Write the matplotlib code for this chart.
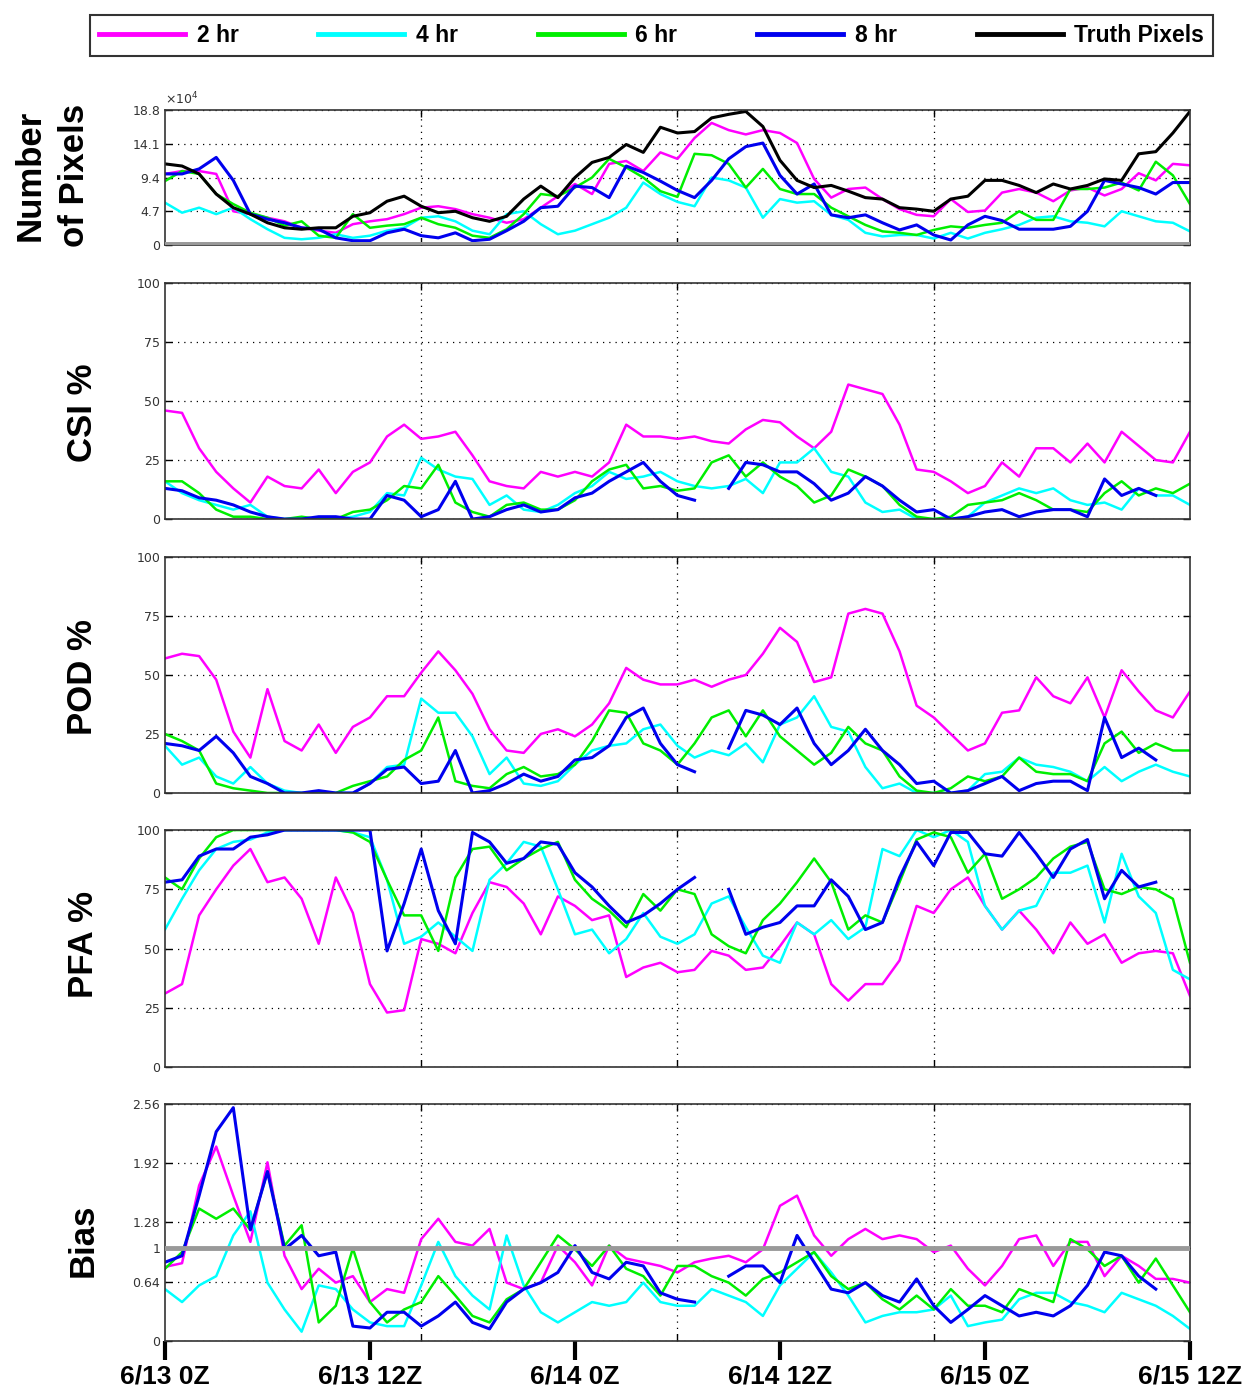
import numpy as np
import matplotlib
matplotlib.use('Agg')
import matplotlib.pyplot as plt

nan = np.nan

# time axis: hours since 6/13 0Z, one value per hour
hours = np.arange(61)
x_ticks = [0, 12, 24, 36, 48, 60]
x_labels = ['6/13 0Z', '6/13 12Z', '6/14 0Z', '6/14 12Z', '6/15 0Z', '6/15 12Z']

leads = ['2 hr', '4 hr', '6 hr', '8 hr']
colors = ['#ff00ff', '#00ffff', '#00ee00', '#0000ee']

# number of pixels (x 10^4)
pix_truth = [11.3, 11.0, 9.9, 7.1, 5.2, 4.3, 3.1, 2.4, 2.2, 2.4, 2.4, 4.0, 4.5, 6.1, 6.8, 5.4,
             4.5, 4.7, 3.8, 3.3, 4.0, 6.4, 8.2, 6.6, 9.4, 11.5, 12.2, 14.0, 12.9, 16.4, 15.6,
             15.8, 17.7, 18.2, 18.6, 16.5, 11.8, 9.0, 8.0, 8.3, 7.5, 6.6, 6.4, 5.2, 5.0, 4.7,
             6.4, 6.8, 9.0, 9.0, 8.3, 7.3, 8.5, 7.8, 8.3, 9.2, 9.0, 12.7, 13.0, 15.6, 18.6]
pix_2hr = [9.9, 10.3, 10.3, 9.9, 4.7, 4.3, 3.8, 3.3, 2.4, 2.0, 1.7, 2.9, 3.3, 3.6, 4.3, 5.2,
           5.4, 5.0, 4.3, 3.8, 3.1, 3.6, 5.2, 6.8, 8.5, 7.1, 11.3, 11.7, 10.3, 12.9, 12.0,
           14.9, 17.0, 16.0, 15.4, 16.0, 15.6, 14.2, 9.2, 6.6, 7.8, 8.0, 6.4, 5.0, 4.2, 4.0,
           6.4, 4.6, 4.8, 7.3, 7.8, 7.3, 6.1, 7.6, 8.0, 6.9, 7.8, 10.0, 9.0, 11.3, 11.1]
pix_4hr = [5.9, 4.5, 5.2, 4.3, 5.2, 3.6, 2.2, 1.0, 0.8, 1.0, 1.5, 1.0, 1.3, 2.0, 2.4, 3.8,
           4.0, 3.3, 2.0, 1.5, 4.3, 4.7, 2.9, 1.5, 2.0, 2.9, 3.8, 5.2, 8.7, 7.1, 6.0,
           5.4, 9.4, 9.0, 8.0, 3.8, 6.4, 5.9, 6.1, 4.2, 3.5, 1.7, 1.2, 1.4, 1.4, 0.9,
           1.7, 0.9, 1.7, 2.2, 2.8, 3.8, 4.0, 3.3, 3.1, 2.6, 4.7, 4.0, 3.3, 3.1, 1.9]
pix_6hr = [8.9, 10.3, 9.9, 7.1, 5.7, 4.5, 3.8, 2.7, 3.3, 1.3, 1.0, 4.3, 2.4, 2.7, 2.9, 3.8,
           2.9, 2.4, 1.3, 1.0, 2.2, 4.3, 7.1, 6.8, 8.0, 9.4, 12.0, 10.8, 9.4, 7.5, 6.7,
           12.7, 12.5, 11.3, 8.0, 10.6, 7.8, 7.1, 7.1, 5.2, 4.0, 2.8, 1.9, 1.7, 1.4, 2.1,
           2.6, 2.4, 2.8, 3.1, 4.7, 3.5, 3.5, 7.8, 7.8, 8.0, 8.7, 7.6, 11.6, 9.7, 5.7]
pix_8hr = [9.9, 9.9, 10.6, 12.2, 9.0, 4.3, 3.6, 3.1, 2.4, 2.2, 1.0, 0.6, 0.6, 1.7, 2.2, 1.3,
           1.0, 1.7, 0.6, 0.8, 2.0, 3.3, 5.2, 5.4, 8.2, 8.0, 6.6, 11.0, 10.1, 8.9, 7.6,
           6.6, 9.0, 12.0, 13.7, 14.2, 9.7, 7.1, 8.5, 4.2, 3.8, 4.2, 3.1, 2.1, 2.8, 1.4,
           0.7, 2.8, 4.0, 3.4, 2.2, 2.2, 2.2, 2.6, 4.7, 9.0, 8.5, 8.0, 7.1, 8.7, 8.7]

# CSI %
csi_2hr = [46, 45, 30, 20, 13, 7, 18, 14, 13, 21, 11, 20, 24, 35, 40, 34, 35, 37, 27, 16,
           14, 13, 20, 18, 20, 18, 24, 40, 35, 35, 34,
           35, 33, 32, 38, 42, 41, 35, 30, 37, 57, 55, 53, 40, 21, 20, 16, 11, 14, 24,
           18, 30, 30, 24, 32, 24, 37, 31, 25, 24, 37]
csi_4hr = [16, 11, 8, 6, 4, 6, 1, 0, 0, 0, 0, 1, 3, 11, 10, 26, 21, 18, 17, 6,
           10, 4, 3, 6, 11, 14, 20, 17, 18, 20, 16,
           14, 13, 14, 17, 11, 24, 24, 30, 20, 18, 7, 3, 4, 0, 0, 0, 1, 7, 10,
           13, 11, 13, 8, 6, 7, 4, 13, 10, 10, 6]
csi_6hr = [16, 16, 11, 4, 1, 1, 0, 0, 1, 0, 0, 3, 4, 8, 14, 13, 23, 7, 3, 1,
           6, 7, 4, 4, 8, 16, 21, 23, 13, 14, 12,
           13, 24, 27, 18, 24, 18, 14, 7, 10, 21, 18, 14, 6, 1, 0, 1, 6, 7, 8,
           11, 8, 4, 4, 3, 11, 16, 10, 13, 11, 15]
csi_8hr = [13, 12, 9, 8, 6, 3, 1, 0, 0, 1, 1, 0, 0, 10, 8, 1, 4, 16, 0, 1,
           4, 6, 3, 4, 9, 11, 16, 20, 24, 16, 10,
           8, nan, 13, 24, 23, 20, 20, 15, 8, 11, 18, 14, 8, 3, 4, 0, 1, 3, 4,
           1, 3, 4, 4, 1, 17, 10, 13, 10, nan, 12]

# POD %
pod_2hr = [57, 59, 58, 48, 26, 15, 44, 22, 18, 29, 17, 28, 32, 41, 41, 51, 60, 52, 42, 27,
           18, 17, 25, 27, 24, 29, 38, 53, 48, 46, 46,
           48, 45, 48, 50, 59, 70, 64, 47, 49, 76, 78, 76, 60, 37, 32, 25, 18, 21, 34,
           35, 49, 41, 38, 49, 32, 52, 43, 35, 32, 43]
pod_4hr = [20, 12, 15, 7, 4, 11, 4, 1, 0, 0, 0, 0, 4, 11, 12, 40, 34, 34, 24, 8,
           15, 4, 3, 5, 12, 18, 20, 21, 27, 29, 20,
           15, 18, 16, 21, 13, 29, 32, 41, 28, 26, 11, 2, 4, 0, 0, 0, 1, 8, 9,
           15, 12, 11, 9, 5, 11, 5, 9, 12, 9, 7]
pod_6hr = [25, 22, 18, 4, 2, 1, 0, 0, 0, 0, 0, 3, 5, 7, 14, 18, 32, 5, 3, 2,
           8, 11, 7, 8, 12, 22, 35, 34, 21, 18, 12,
           21, 32, 35, 24, 35, 24, 18, 12, 17, 28, 21, 18, 7, 1, 0, 2, 7, 5, 7,
           15, 9, 8, 8, 5, 21, 26, 17, 21, 18, 18]
pod_8hr = [21, 20, 18, 24, 17, 7, 4, 0, 0, 1, 0, 0, 4, 10, 11, 4, 5, 18, 0, 1,
           4, 8, 5, 7, 14, 15, 20, 32, 36, 21, 12,
           9, nan, 19, 35, 33, 29, 36, 21, 12, 18, 27, 18, 12, 4, 5, 0, 1, 4, 7,
           1, 4, 5, 5, 1, 32, 15, 19, 14, nan, 15]

# PFA %
pfa_2hr = [31, 35, 64, 75, 85, 92, 78, 80, 71, 52, 80, 65, 35, 23, 24, 54, 52, 48, 65, 78,
           76, 69, 56, 72, 68, 62, 64, 38, 42, 44, 40,
           41, 49, 47, 41, 42, 51, 61, 56, 35, 28, 35, 35, 45, 68, 65, 75, 80, 68, 58,
           66, 58, 48, 61, 52, 56, 44, 48, 49, 48, 30]
pfa_4hr = [58, 71, 83, 92, 95, 96, 99, 100, 100, 100, 100, 99, 97, 79, 52, 55, 61, 55, 49, 79,
           86, 95, 93, 75, 56, 58, 48, 54, 65, 55, 52,
           56, 69, 72, 59, 47, 44, 61, 56, 62, 54, 59, 92, 89, 100, 97, 100, 95, 68, 58,
           66, 68, 82, 82, 85, 61, 90, 72, 65, 41, 37]
pfa_6hr = [80, 75, 88, 97, 100, 100, 100, 100, 100, 100, 100, 99, 95, 79, 64, 64, 49, 80, 92, 93,
           83, 88, 92, 95, 79, 71, 66, 59, 73, 66, 75,
           73, 56, 51, 48, 62, 69, 78, 88, 78, 58, 64, 61, 78, 96, 99, 97, 82, 90, 71,
           75, 80, 88, 93, 95, 75, 73, 76, 75, 71, 44]
pfa_8hr = [78, 79, 89, 92, 92, 97, 98, 100, 100, 100, 100, 100, 100, 49, 69, 92, 66, 52, 99, 95,
           86, 88, 95, 94, 82, 76, 68, 61, 64, 69, 75,
           80, nan, 75, 56, 59, 61, 68, 68, 79, 72, 58, 61, 80, 95, 85, 99, 99, 90, 89,
           99, 90, 80, 92, 96, 71, 83, 76, 78, nan, 71]

# Bias
bias_2hr = [0.80, 0.84, 1.68, 2.10, 1.57, 1.07, 1.93, 0.92, 0.56, 0.78, 0.63, 0.70, 0.42, 0.56,
            0.52, 1.10, 1.32, 1.07, 1.03, 1.21, 0.63, 0.56, 0.63, 1.03, 0.85, 0.60, 1.03,
            0.89, 0.85, 0.81, 0.74,
            0.85, 0.89, 0.92, 0.85, 0.99, 1.46, 1.57, 1.14, 0.92, 1.10, 1.21, 1.10, 1.14,
            1.10, 0.96, 1.03, 0.78, 0.60, 0.81, 1.10, 1.14, 0.81, 1.07, 1.07, 0.70, 0.92,
            0.81, 0.67, 0.67, 0.63]
bias_4hr = [0.56, 0.42, 0.60, 0.70, 1.14, 1.40, 0.63, 0.34, 0.10, 0.60, 0.56, 0.34, 0.20, 0.16,
            0.16, 0.60, 1.07, 0.70, 0.49, 0.34, 1.14, 0.60, 0.31, 0.20, 0.31, 0.42, 0.38,
            0.42, 0.63, 0.42, 0.38,
            0.38, 0.56, 0.49, 0.42, 0.27, 0.60, 0.78, 0.96, 0.74, 0.49, 0.20, 0.27, 0.31,
            0.31, 0.34, 0.49, 0.16, 0.20, 0.23, 0.45, 0.52, 0.52, 0.42, 0.38, 0.31, 0.52,
            0.45, 0.38, 0.27, 0.13]
bias_6hr = [0.78, 0.96, 1.43, 1.32, 1.43, 1.20, 1.83, 1.03, 1.25, 0.20, 0.38, 1.00, 0.42, 0.20,
            0.34, 0.42, 0.70, 0.49, 0.27, 0.20, 0.45, 0.56, 0.85, 1.14, 0.99, 0.81, 1.03,
            0.78, 0.70, 0.49, 0.81,
            0.81, 0.70, 0.63, 0.49, 0.67, 0.74, 0.85, 0.96, 0.70, 0.56, 0.63, 0.45, 0.34,
            0.49, 0.34, 0.56, 0.38, 0.38, 0.31, 0.56, 0.49, 0.42, 1.10, 0.99, 0.81, 0.92,
            0.63, 0.89, 0.60, 0.31]
bias_8hr = [0.85, 0.92, 1.57, 2.26, 2.52, 1.20, 1.83, 0.99, 1.14, 0.92, 0.96, 0.16, 0.14, 0.31,
            0.31, 0.16, 0.27, 0.42, 0.20, 0.13, 0.42, 0.56, 0.63, 0.74, 1.03, 0.74, 0.67,
            0.85, 0.81, 0.52, 0.45,
            0.42, nan, 0.70, 0.81, 0.81, 0.63, 1.14, 0.85, 0.56, 0.52, 0.63, 0.49, 0.42,
            0.67, 0.38, 0.20, 0.34, 0.49, 0.38, 0.27, 0.31, 0.27, 0.38, 0.60, 0.96, 0.92,
            0.70, 0.56, nan, 0.49]

pix_ticks = [0, 4.7, 9.4, 14.1, 18.8]
pct_ticks = [0, 25, 50, 75, 100]
bias_ticks = [0, 0.64, 1, 1.28, 1.92, 2.56]

bold_font = ['Liberation Sans', 'DejaVu Sans']

panels = [
    ([pix_2hr, pix_4hr, pix_6hr, pix_8hr], pix_ticks, 'Number\nof Pixels', 0.042, 0.874),
    ([csi_2hr, csi_4hr, csi_6hr, csi_8hr], pct_ticks, 'CSI %', 0.066, 0.7027),
    ([pod_2hr, pod_4hr, pod_6hr, pod_8hr], pct_ticks, 'POD %', 0.066, 0.5126),
    ([pfa_2hr, pfa_4hr, pfa_6hr, pfa_8hr], pct_ticks, 'PFA %', 0.067, 0.3197),
    ([bias_2hr, bias_4hr, bias_6hr, bias_8hr], bias_ticks, 'Bias', 0.067, 0.1073),
]
rows = [(0.8236, 0.0972), (0.6263, 0.1699), (0.4291, 0.1699), (0.2318, 0.1706), (0.0346, 0.1706)]

fig = plt.figure(figsize=(12.45, 13.89), dpi=100)
grid_style = dict(color='black', linestyle=(0, (1, 4)), linewidth=0.9)

for i, (series, yt, label, lx, ly) in enumerate(panels):
    bottom, height = rows[i]
    ax = fig.add_axes([0.1325, bottom, 0.8233, height])
    for vals, c, name in zip(series, colors, leads):
        lw = 2.2 if c == '#0000ee' else 1.8
        ax.plot(hours, vals, color=c, lw=lw, label=name)
    if i == 0:
        ax.plot(hours, pix_truth, color='black', lw=2.2, label='Truth Pixels')
        ax.axhline(0, color='#999999', lw=5, zorder=3)
        ax.text(0.0, 1.04, r'$\times10^{4}$', transform=ax.transAxes, fontsize=9, color='#333333')
        handles, labels = ax.get_legend_handles_labels()
    if i == 4:
        ax.axhline(1, color='#999999', lw=3.5, zorder=3)
    ax.set_xlim(0, 60)
    ax.set_ylim(yt[0], yt[-1])
    ax.set_yticks(yt)
    ax.set_yticklabels(['%g' % v for v in yt])
    ax.tick_params(axis='both', which='both', direction='in', top=True, right=True,
                   length=5, width=1, labelsize=9, labelcolor='#333333')
    for s in ax.spines.values():
        s.set_linewidth(1.2)
        s.set_color('#333333')
    if i < 4:
        ax.set_xticks([15, 30, 45])
        ax.set_xticklabels([])
        ax.grid(True, which='major', **grid_style)
    else:
        ax.set_xticks([15, 30, 45], minor=True)
        ax.set_xticks(x_ticks)
        ax.set_xticklabels(x_labels)
        ax.tick_params(axis='x', which='major', direction='out', length=14, width=3,
                       top=False, pad=3, labelsize=19, labelcolor='black', color='black')
        ax.tick_params(axis='x', which='minor', direction='in', length=5, top=True, bottom=True)
        for t in ax.get_xticklabels():
            t.set_fontweight('bold')
            t.set_family(bold_font)
        ax.grid(True, which='minor', axis='x', **grid_style)
        ax.grid(True, which='major', axis='y', **grid_style)
    fig.text(lx, ly, label, rotation=90, ha='center', va='center', fontsize=25,
             fontweight='bold', family=bold_font, linespacing=1.45)

leg = fig.legend(handles, labels, loc='center', bbox_to_anchor=(0.0723, 0.9561, 0.902, 0.0367),
                 bbox_transform=fig.transFigure, ncol=5, mode='expand', frameon=True,
                 fancybox=False, edgecolor='black', handlelength=3.75, handletextpad=0.5,
                 borderaxespad=0, prop={'family': bold_font, 'weight': 'bold', 'size': 16.5})
leg.get_frame().set_linewidth(1.5)
for h in leg.legend_handles:
    h.set_linewidth(3.5)

fig.savefig('out.png', dpi=100)
